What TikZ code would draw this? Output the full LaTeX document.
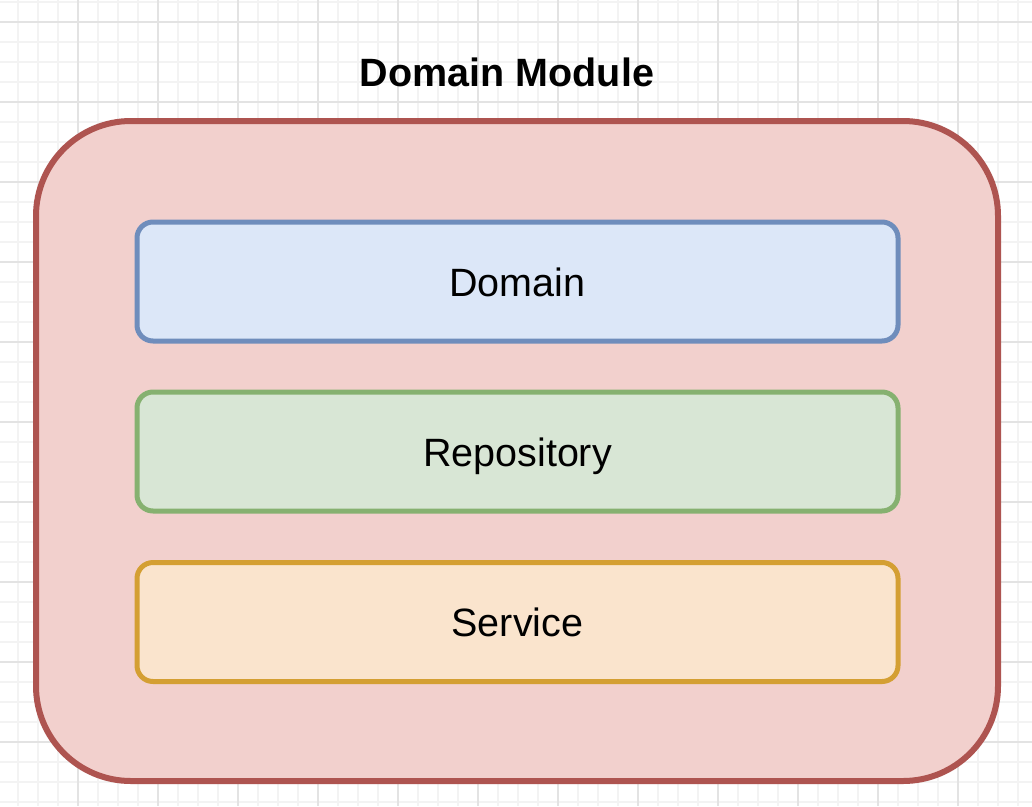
\documentclass[tikz,border=0pt]{standalone}
\usepackage{fontspec}
\setmainfont{Liberation Sans}
\definecolor{gridminor}{HTML}{F3F3F3}
\definecolor{gridmajor}{HTML}{E3E3E3}
\definecolor{redfill}{HTML}{F2D0CD}
\definecolor{redline}{HTML}{AE5450}
\definecolor{bluefill}{HTML}{DCE7F8}
\definecolor{blueline}{HTML}{6F8DBC}
\definecolor{greenfill}{HTML}{D8E6D5}
\definecolor{greenline}{HTML}{86B170}
\definecolor{orangefill}{HTML}{FAE4CD}
\definecolor{orangeline}{HTML}{D49F33}
\tikzset{
  layer/.style={draw, line width=5pt, rounded corners=16pt, minimum width=761pt, minimum height=119pt, font=\fontsize{39.5}{45}\selectfont, inner sep=0pt, text height=29pt, text depth=0pt},
  outerbox/.style={draw=redline, fill=redfill, line width=6pt, rounded corners=95pt, minimum width=962pt, minimum height=660pt, inner sep=0pt},
}
\begin{document}
\begin{tikzpicture}[x=1pt,y=-1pt]
\useasboundingbox (0,0) rectangle (1032,806);
\fill[white] (0,0) rectangle (1032,806);
\foreach \i in {-2,...,52} {
  \draw[gridminor, line width=1.2pt] ({18+20*\i},0) -- ({18+20*\i},806);
  \draw[gridminor, line width=1.2pt] (0,{22+20*\i}) -- (1032,{22+20*\i});
}
\foreach \i in {-1,...,13} {
  \draw[gridmajor, line width=1.3pt] ({78+80*\i},0) -- ({78+80*\i},806);
  \draw[gridmajor, line width=1.3pt] (0,{22+80*\i}) -- (1032,{22+80*\i});
}
\node[outerbox] (module) at (517,451) {};
\node[font=\bfseries\fontsize{39.5}{45}\selectfont, text height=28pt, text depth=0pt] (title) at (507,72) {Domain Module};
\node[layer, draw=blueline, fill=bluefill] (domain) at (517.5,281.5) {Domain};
\node[layer, draw=greenline, fill=greenfill] (repo) at (517.5,451.5) {Repository};
\node[layer, draw=orangeline, fill=orangefill] (service) at (517.5,622) {Service};
\end{tikzpicture}
\end{document}
